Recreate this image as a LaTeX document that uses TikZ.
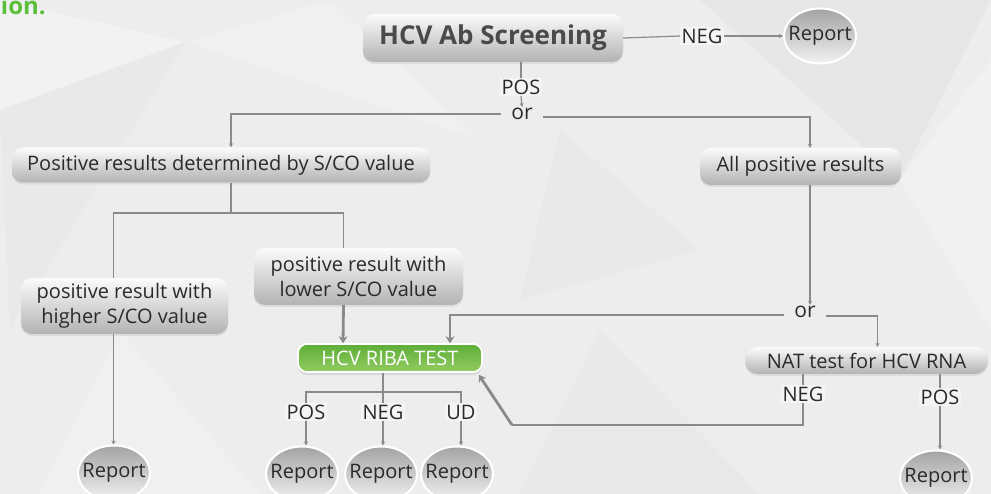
\documentclass[tikz,border=0pt]{standalone}
\usepackage{fontspec}
\setmainfont{Open Sans}
\usetikzlibrary{arrows.meta,shapes.geometric,shadows}

\definecolor{bgcol}{HTML}{EDEDEE}
\definecolor{linecol}{HTML}{8A8A8A}
\definecolor{txtcol}{HTML}{2A2A2A}
\definecolor{scrtxt}{HTML}{4A4A4A}
\definecolor{ribatop}{HTML}{5DAE37}
\definecolor{ribabot}{HTML}{94CB62}
\definecolor{headcol}{HTML}{5CBF3A}

\newcommand{\reptext}{\makebox[40pt][c]{Report}}

\begin{document}
\begin{tikzpicture}[x=1pt, y=-1pt,
        greybox/.style={rounded corners=11pt, top color=white!97!gray, bottom color=black!30,
            text=txtcol, font=\fontsize{20}{25}\selectfont, inner sep=0pt, align=center,
            drop shadow={opacity=0.15, shadow xshift=0pt, shadow yshift=-2pt}},
        ribabox/.style={rounded corners=9pt, top color=ribatop, bottom color=ribabot,
            draw=white, line width=1.6pt, text=white, font=\fontsize{20}{22}\selectfont, inner sep=0pt,
            drop shadow={opacity=0.2, shadow xshift=0pt, shadow yshift=-3pt}},
        report/.style={ellipse, top color=black!36, bottom color=black!5, draw=white, line width=2pt,
            minimum width=72pt, minimum height=55pt, inner sep=0pt, text=txtcol,
            font=\fontsize{20}{22}\selectfont},
        label/.style={fill=white, fill opacity=0.4, text opacity=1, text=txtcol, inner sep=1.5pt,
            font=\fontsize{20}{22}\selectfont},
        orlabel/.style={text=txtcol, inner xsep=10pt, inner ysep=1pt, font=\fontsize{21}{22}\selectfont},
        conn/.style={draw=linecol, line width=1.2pt},
        connarrow/.style={conn, -{Stealth[length=4pt,width=4pt]}},
        bigarrow/.style={draw=linecol, line width=2.8pt, -{Stealth[length=7pt,width=9pt]}}
    ]

        % background
        \useasboundingbox (0,0) rectangle (991,494);
        \clip (0,0) rectangle (991,494);
        \fill[bgcol] (0,0) rectangle (991,494);
        \fill[white, opacity=0.3] (0,0) -- (185,42) -- (0,110) -- cycle;
        \fill[white, opacity=0.2] (185,42) -- (330,0) -- (480,140) -- cycle;
        \fill[black, opacity=0.015] (0,110) -- (185,42) -- (10,330) -- cycle;
        \fill[black, opacity=0.025] (700,0) -- (991,0) -- (900,180) -- cycle;
        \fill[white, opacity=0.25] (900,180) -- (991,60) -- (991,330) -- cycle;
        \fill[black, opacity=0.015] (600,330) -- (760,494) -- (520,494) -- cycle;
        \fill[white, opacity=0.2] (120,330) -- (260,494) -- (40,494) -- cycle;
        \fill[black, opacity=0.015] (560,130) -- (700,250) -- (520,300) -- cycle;

        \node[anchor=base east, text=headcol, font=\bfseries\fontsize{24}{26}\selectfont, inner sep=0pt]
            (head) at (46,15) {ion.};

        % boxes
        \node[greybox, minimum width=260pt, minimum height=48pt, text=scrtxt,
            font=\bfseries\fontsize{26}{28}\selectfont] (scr) at (493,38) {HCV Ab Screening};
        \node[greybox, minimum width=418pt, minimum height=35pt] (possco) at (221,165)
            {Positive results determined by S/CO value};
        \node[greybox, minimum width=201pt, minimum height=37pt] (allpos) at (800.5,166.5)
            {All positive results};
        \node[greybox, minimum width=207pt, minimum height=56pt] (higher) at (124.5,306)
            {positive result with\\higher S/CO value};
        \node[greybox, minimum width=209pt, minimum height=57pt] (lower) at (358.5,276.5)
            {positive result with\\lower S/CO value};
        \node[ribabox, minimum width=184pt, minimum height=28pt] (riba) at (390,358) {HCV RIBA TEST};
        \node[greybox, minimum width=243pt, minimum height=27pt, rounded corners=13pt] (nat) at (866.5,360.5)
            {NAT test for HCV RNA};

        % reports
        \node[report] (rep0) at (820,36) {\reptext};
        \node[report] (rep1) at (114,473) {\reptext};
        \node[report] (rep2) at (302,474) {\reptext};
        \node[report] (rep3) at (381,474) {\reptext};
        \node[report] (rep4) at (457,474) {\reptext};
        \node[report] (rep5) at (936,478) {\reptext};

        % labels
        \node[label] (neg0) at (702,36) {NEG};
        \node[label] (pos0) at (521,87) {POS};
        \node[orlabel] (or0) at (522,114) {or};
        \node[orlabel] (or1) at (805,312) {or};
        \node[label] (posl) at (306,412) {POS};
        \node[label] (negl) at (383,412) {NEG};
        \node[label] (udl) at (461,412) {UD};
        \node[label] (negn) at (803,394) {NEG};
        \node[label] (posn) at (940,397) {POS};

        % connectors
        \coordinate (fork) at (231,213);
        \coordinate (ribafork) at (383,392);
        \coordinate (bend) at (512,425);

        \draw[conn] (scr.east) -- (neg0.west);
        \draw[connarrow] (neg0.east) -- (rep0.west);
        \draw[conn] (pos0.north |- scr.south) -- (pos0.north);
        \draw[connarrow] (pos0.south) -- (or0.north);
        \draw[connarrow] (or0.west) -| ([xshift=10pt]possco.north);
        \draw[connarrow] ([yshift=-3pt]or0.east) -| ([xshift=9.5pt]allpos.north);

        \draw[conn] ([xshift=10pt]possco.south) -- (fork);
        \draw[conn] (fork) -| ([xshift=-11pt]higher.north);
        \draw[conn] (fork) -| ([xshift=-15pt]lower.north);
        \draw[connarrow] ([xshift=-11pt]higher.south) -- ([xshift=-11pt]higher.south |- rep1.north);
        \draw[bigarrow] ([xshift=-15pt]lower.south) -- ([xshift=-47pt]riba.north);

        \draw[connarrow] ([xshift=9.5pt]allpos.south) -- ([xshift=5pt]or1.north);
        \draw[bigarrow] ([yshift=-3pt]or1.west) -| ([xshift=60pt]riba.north);
        \draw[connarrow] ([yshift=-4pt]or1.east) -| ([xshift=11pt]nat.north);

        \draw[conn] ([xshift=-7pt]riba.south) -- (ribafork);
        \draw[conn] (posl.north) |- (ribafork) -| (udl.north);
        \draw[conn] (ribafork) -- (negl.north);
        \draw[connarrow] (posl.south) -- (posl.south |- rep2.north);
        \draw[connarrow] (negl.south) -- (negl.south |- rep3.north);
        \draw[connarrow] (udl.south) -- (udl.south |- rep4.north);

        \draw[conn] (nat.south -| negn) -- (negn.north);
        \draw[draw=linecol, line width=2.8pt] (negn.south) |- (bend);
        \draw[bigarrow] (bend) -- ([xshift=-4pt, yshift=-2pt]riba.south east);
        \draw[conn] (nat.south -| posn) -- (posn.north);
        \draw[connarrow] (posn.south) -- (posn.south |- rep5.north);
    \end{tikzpicture}
\end{document}
